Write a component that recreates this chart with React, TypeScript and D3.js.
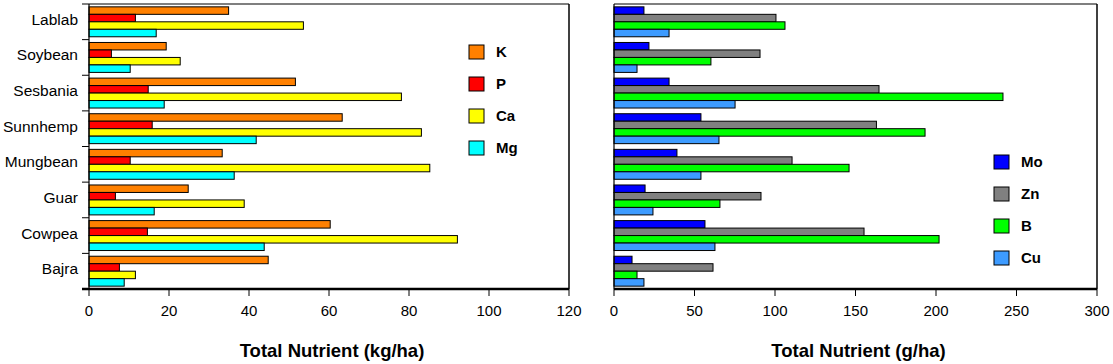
import React, { useEffect, useRef } from 'react';
import * as d3 from 'd3';

// crops, top to bottom
const crops = ['Lablab', 'Soybean', 'Sesbania', 'Sunnhemp', 'Mungbean', 'Guar', 'Cowpea', 'Bajra'];

// macro nutrients, kg/ha
const macroKeys = ['K', 'P', 'Ca', 'Mg'];
const kValues = [34.9, 19.3, 51.6, 63.3, 33.3, 24.8, 60.3, 44.8];
const pValues = [11.6, 5.6, 14.8, 15.8, 10.3, 6.6, 14.6, 7.6];
const caValues = [53.6, 22.8, 78.1, 83.1, 85.2, 38.8, 92.1, 11.6];
const mgValues = [16.8, 10.3, 18.8, 41.8, 36.3, 16.3, 43.8, 8.8];
const macroTicks = [0, 20, 40, 60, 80, 100, 120];

// micro nutrients, g/ha
const microKeys = ['Mo', 'Zn', 'B', 'Cu'];
const moValues = [18.6, 21.7, 34.2, 54.0, 39.1, 19.3, 56.5, 11.2];
const znValues = [100.6, 90.7, 164.6, 163.0, 110.6, 91.3, 155.3, 61.5];
const bValues = [106.2, 60.2, 241.6, 193.2, 146.0, 65.8, 201.9, 14.3];
const cuValues = [34.2, 14.3, 75.2, 65.2, 54.0, 24.2, 62.7, 18.6];
const microTicks = [0, 50, 100, 150, 200, 250, 300];

const FONT = 'Arial, "Liberation Sans", sans-serif';

function drawPanel(svg, opts) {
  const { left, right, top, bottom, keys, series, colors, ticks, max, title, showCats, legendX, legendY } = opts;

  const x = d3.scaleLinear().domain([0, max]).range([left, right]);
  const y = d3.scaleBand().domain(crops).range([top, bottom]).paddingInner(0.16).paddingOuter(0.08);
  const inner = d3.scaleBand().domain(keys).range([0, y.bandwidth()]);
  const g = svg.append('g');

  // bars
  keys.forEach((k, i) => {
    g.selectAll(null)
      .data(series[i])
      .enter()
      .append('rect')
      .attr('x', x(0))
      .attr('y', (d, j) => y(crops[j]) + inner(k))
      .attr('width', (d) => x(d) - x(0))
      .attr('height', inner.bandwidth())
      .attr('fill', colors[i])
      .attr('stroke', '#000')
      .attr('stroke-width', 1);
  });

  // frame: top + right border, left axis, thick bottom axis
  g.append('line').attr('x1', showCats ? left - 7 : left).attr('x2', right).attr('y1', top).attr('y2', top)
    .attr('stroke', '#000').attr('stroke-width', 1.2);
  g.append('line').attr('x1', right).attr('x2', right).attr('y1', top).attr('y2', bottom)
    .attr('stroke', '#000').attr('stroke-width', 1.5);
  g.append('line').attr('x1', left).attr('x2', left).attr('y1', top).attr('y2', bottom)
    .attr('stroke', '#000').attr('stroke-width', 1.2);
  g.append('line').attr('x1', showCats ? left - 7 : left).attr('x2', right).attr('y1', bottom).attr('y2', bottom)
    .attr('stroke', '#000').attr('stroke-width', 2.5);

  // x ticks
  const xt = g.selectAll('.xt').data(ticks).enter().append('g').attr('transform', (d) => `translate(${x(d)},${bottom})`);
  xt.append('line').attr('y1', 0).attr('y2', 7).attr('stroke', '#000');
  xt.append('text')
    .attr('y', 27)
    .attr('text-anchor', 'middle')
    .attr('font-family', FONT)
    .attr('font-size', 15)
    .text((d) => d);

  // category ticks and labels
  if (showCats) {
    const step = y.step();
    crops.forEach((c, j) => {
      const yb = top + step * (j + 1);
      g.append('line').attr('x1', left - 7).attr('x2', left).attr('y1', yb).attr('y2', yb).attr('stroke', '#000');
    });
    g.selectAll('.cat').data(crops).enter().append('text')
      .attr('x', left - 11)
      .attr('y', (d) => y(d) + y.bandwidth() / 2 + 3)
      .attr('text-anchor', 'end')
      .attr('font-family', FONT)
      .attr('font-size', 15.5)
      .text((d) => d);
  }

  // axis title
  g.append('text')
    .attr('x', (left + right) / 2 + 3)
    .attr('y', 357)
    .attr('text-anchor', 'middle')
    .attr('font-family', FONT)
    .attr('font-weight', 'bold')
    .attr('font-size', 18.5)
    .text(title);

  // legend
  keys.forEach((k, i) => {
    const ly = legendY + i * 32;
    g.append('rect').attr('x', legendX).attr('y', ly).attr('width', 15).attr('height', 14)
      .attr('fill', colors[i]).attr('stroke', '#000');
    g.append('text').attr('x', legendX + 27).attr('y', ly + 12)
      .attr('font-family', FONT).attr('font-weight', 'bold').attr('font-size', 15)
      .text(k);
  });
}

export default function App() {
  const ref = useRef(null);

  useEffect(() => {
    const svg = d3.select(ref.current);
    svg.selectAll('*').remove();

    drawPanel(svg, {
      left: 89, right: 569, top: 4, bottom: 289,
      keys: macroKeys,
      series: [kValues, pValues, caValues, mgValues],
      colors: ['#FF8000', '#FF0000', '#FFFF00', '#00FFFF'],
      ticks: macroTicks, max: 120,
      title: 'Total Nutrient (kg/ha)',
      showCats: true,
      legendX: 469, legendY: 45
    });

    drawPanel(svg, {
      left: 614, right: 1097, top: 4, bottom: 289,
      keys: microKeys,
      series: [moValues, znValues, bValues, cuValues],
      colors: ['#0000FF', '#808080', '#00FF00', '#3D9BFF'],
      ticks: microTicks, max: 300,
      title: 'Total Nutrient (g/ha)',
      showCats: false,
      legendX: 994, legendY: 155
    });
  }, []);

  return (
    <svg
      ref={ref}
      width={1113}
      height={364}
      style={{ position: 'absolute', left: 0, top: 0, background: '#fff' }}
    />
  );
}
